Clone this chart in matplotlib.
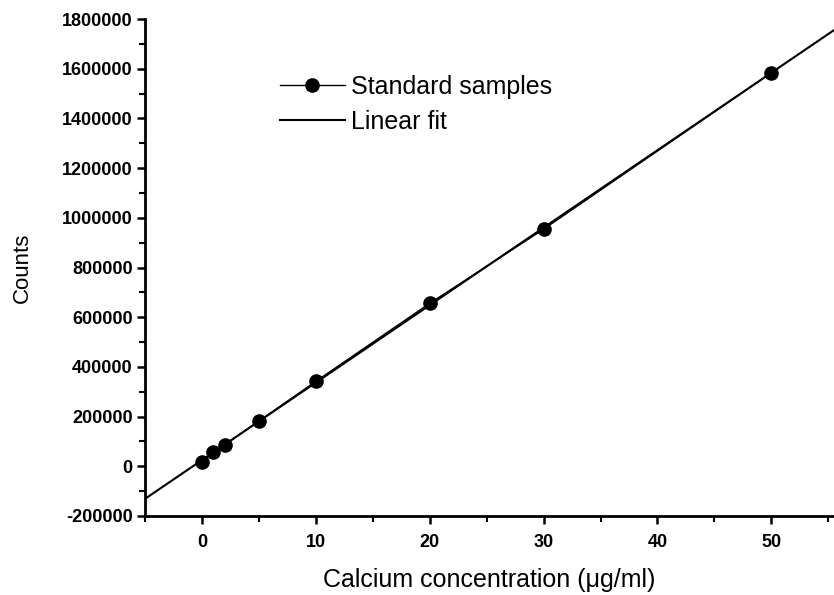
import numpy as np
import matplotlib
matplotlib.use('Agg')
import matplotlib.pyplot as plt
from matplotlib.ticker import MultipleLocator, FuncFormatter

# standard samples
conc = [0, 1, 2, 5, 10, 20, 30, 50]
counts = [17000, 57600, 87000, 182000, 342000, 656000, 954000, 1583700]

plt.rcParams['font.family'] = ['Liberation Sans', 'DejaVu Sans']

fig = plt.figure(figsize=(8.34, 5.95), dpi=100)
ax = fig.add_axes([0.1739, 0.1328, 0.8261, 0.8352])

# linear fit over the whole visible x range
slope, intercept = np.polyfit(conc, counts, 1)
xfit = np.array([-5, 55.5])
ax.plot(xfit, slope * xfit + intercept, color='black', lw=1.5, label='Linear fit', zorder=2)
ax.plot(conc, counts, '-o', color='black', lw=1.0, ms=9.5, label='Standard samples', zorder=3)

ax.set_xlim(-5, 55.5)
ax.set_ylim(-200000, 1800000)
ax.xaxis.set_major_locator(MultipleLocator(10))
ax.xaxis.set_minor_locator(MultipleLocator(5))
ax.yaxis.set_major_locator(MultipleLocator(200000))
ax.yaxis.set_minor_locator(MultipleLocator(100000))
ax.yaxis.set_major_formatter(FuncFormatter(lambda v, p: '%d' % v))

for s in ['top', 'right']:
    ax.spines[s].set_visible(False)
for s in ['left', 'bottom']:
    ax.spines[s].set_linewidth(2.0)

ax.tick_params(which='major', direction='out', length=6, width=1.8, labelsize=13)
ax.tick_params(axis='x', which='major', pad=7)
ax.tick_params(axis='y', which='major', pad=3)
ax.tick_params(which='minor', direction='out', length=4, width=1.5)
for lab in ax.get_xticklabels() + ax.get_yticklabels():
    lab.set_fontweight('bold')

ax.set_xlabel('Calcium concentration (\u03bcg/ml)', fontsize=18, labelpad=12)
ax.set_ylabel('Counts', fontsize=16, labelpad=21)

handles, labels = ax.get_legend_handles_labels()
ax.legend(handles[::-1], labels[::-1], loc='upper left', bbox_to_anchor=(0.163, 0.933),
          frameon=False, fontsize=18, handlelength=2.6, handletextpad=0.25, labelspacing=0.45)

fig.savefig('out.png', dpi=100)
